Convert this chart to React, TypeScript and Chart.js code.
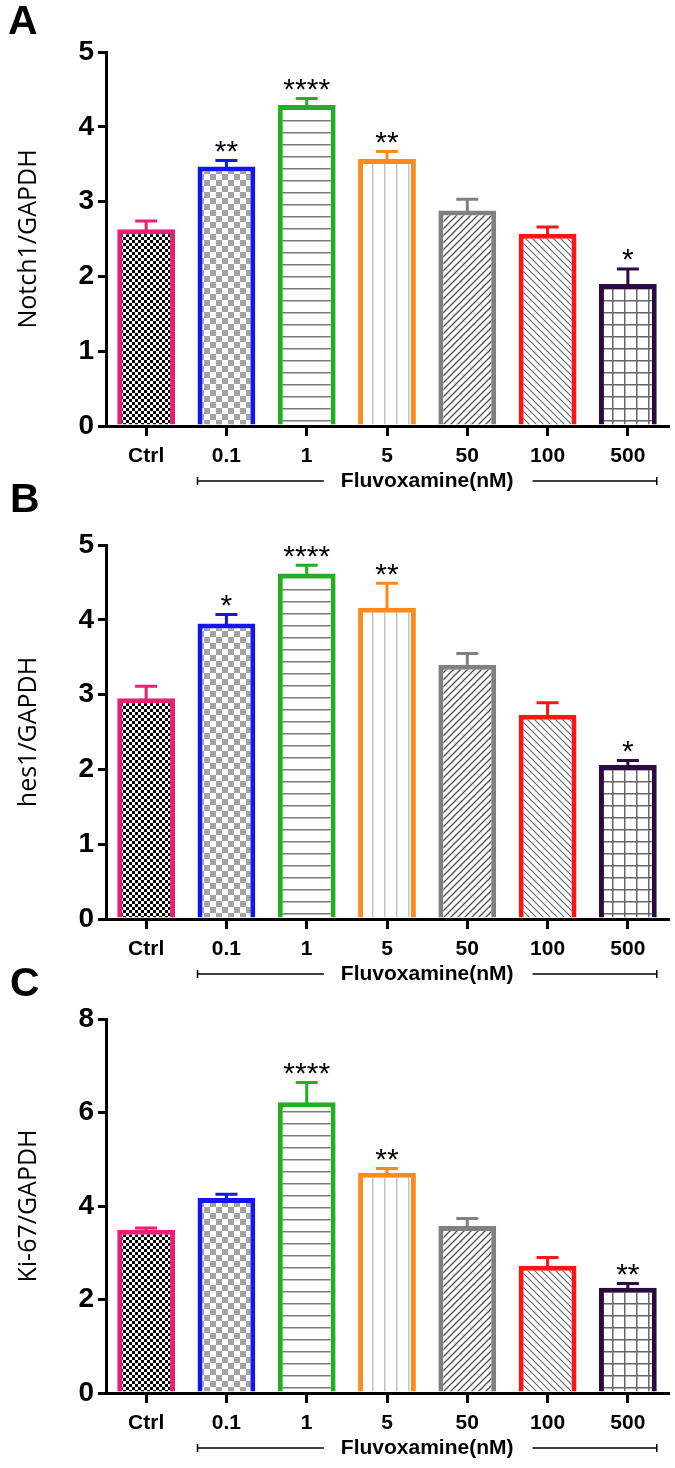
import React, { useEffect, useRef } from 'react';
import { Chart, registerables } from 'chart.js';

Chart.register(...registerables);

// ---------- data ----------
const categories = ['Ctrl', '0.1', '1', '5', '50', '100', '500'];

const notch1Values = [2.63, 3.47, 4.29, 3.57, 2.88, 2.57, 1.9];
const notch1Errors = [0.11, 0.08, 0.09, 0.1, 0.15, 0.09, 0.2];
const notch1Stars = ['', '**', '****', '**', '', '', '*'];

const hes1Values = [2.95, 3.95, 4.62, 4.16, 3.4, 2.73, 2.06];
const hes1Errors = [0.16, 0.12, 0.11, 0.33, 0.15, 0.16, 0.06];
const hes1Stars = ['', '*', '****', '**', '', '', '*'];

const ki67Values = [3.49, 4.17, 6.22, 4.71, 3.57, 2.72, 2.25];
const ki67Errors = [0.04, 0.08, 0.42, 0.09, 0.16, 0.18, 0.09];
const ki67Stars = ['', '', '****', '**', '', '', '**'];

const groupLabel = 'Fluvoxamine(nM)';

const barColors = ['#e81f72', '#1414f0', '#22b022', '#ff8a1c', '#808080', '#ff1414', '#2c0b42'];
const patternKinds = ['fineChecker', 'grayChecker', 'hLines', 'vLines', 'diagUp', 'diagDown', 'grid'];

// ---------- patterns ----------
function makePattern(kind: string): CanvasPattern | string {
  const c = document.createElement('canvas');
  let s = 12;
  if (kind === 'fineChecker') s = 6;
  if (kind === 'diagUp' || kind === 'diagDown') s = 7;
  c.width = s;
  c.height = s;
  const g = c.getContext('2d');
  if (!g) return '#fff';
  g.fillStyle = '#ffffff';
  g.fillRect(0, 0, s, s);
  if (kind === 'fineChecker') {
    g.fillStyle = '#000000';
    g.fillRect(0, 0, 3, 3);
    g.fillRect(3, 3, 3, 3);
  } else if (kind === 'grayChecker') {
    g.fillStyle = '#a3a3a3';
    g.fillRect(0, 0, 6, 6);
    g.fillRect(6, 6, 6, 6);
  } else if (kind === 'hLines') {
    g.fillStyle = '#7a7a7a';
    g.fillRect(0, 0, s, 1.5);
  } else if (kind === 'vLines') {
    g.fillStyle = '#c4c4c4';
    g.fillRect(0, 0, 1.5, s);
  } else if (kind === 'diagUp') {
    g.strokeStyle = '#505050';
    g.lineWidth = 1.3;
    g.beginPath();
    g.moveTo(-1, s + 1);
    g.lineTo(s + 1, -1);
    g.moveTo(-1, 1);
    g.lineTo(1, -1);
    g.moveTo(s - 1, s + 1);
    g.lineTo(s + 1, s - 1);
    g.stroke();
  } else if (kind === 'diagDown') {
    g.strokeStyle = '#6a6a6a';
    g.lineWidth = 1.2;
    g.beginPath();
    g.moveTo(-1, -1);
    g.lineTo(s + 1, s + 1);
    g.moveTo(s - 1, -1);
    g.lineTo(s + 1, 1);
    g.moveTo(-1, s - 1);
    g.lineTo(1, s + 1);
    g.stroke();
  } else if (kind === 'grid') {
    g.fillStyle = '#666666';
    g.fillRect(0, 0, s, 1.5);
    g.fillRect(0, 0, 1.5, s);
  }
  const p = g.createPattern(c, 'repeat');
  return p || '#fff';
}

// ---------- panel ----------
type PanelProps = {
  top: number;
  height: number;
  yTitle: string;
  values: number[];
  errors: number[];
  stars: string[];
  yMax: number;
  yStep: number;
};

const AXIS_BOTTOM = 426;

function Panel({ top, height, yTitle, values, errors, stars, yMax, yStep }: PanelProps) {
  const ref = useRef<HTMLCanvasElement | null>(null);

  useEffect(() => {
    if (!ref.current) return;
    const patterns = patternKinds.map((k) => makePattern(k));

    const annotate = {
      id: 'annotate',
      afterDatasetsDraw(chart: any) {
        const { ctx, scales } = chart;
        const y = scales.y;
        const meta = chart.getDatasetMeta(0);
        meta.data.forEach((bar: any, i: number) => {
          const cx = bar.x;
          const topPx = bar.y;
          const errPx = y.getPixelForValue(values[i] + errors[i]);
          ctx.save();
          ctx.strokeStyle = barColors[i];
          ctx.lineWidth = 3;
          ctx.beginPath();
          ctx.moveTo(cx, topPx + 3);
          ctx.lineTo(cx, errPx);
          ctx.moveTo(cx - 11, errPx);
          ctx.lineTo(cx + 11, errPx);
          ctx.stroke();
          if (stars[i]) {
            ctx.font = '30px "Liberation Sans", Arial, sans-serif';
            ctx.fillStyle = '#000';
            ctx.textAlign = 'center';
            ctx.textBaseline = 'alphabetic';
            const m = ctx.measureText(stars[i]);
            const baseline = errPx - 1.5 - 7 - m.actualBoundingBoxDescent;
            ctx.fillText(stars[i], cx, baseline);
          }
          ctx.restore();
        });
        // bracket with group label
        const b1 = meta.data[1];
        const b6 = meta.data[meta.data.length - 1];
        const x1 = b1.x - b1.width / 2;
        const x2 = b6.x + b6.width / 2;
        const by = chart.chartArea.bottom + 55;
        ctx.save();
        ctx.font = 'bold 21px "Liberation Sans", Arial, sans-serif';
        ctx.fillStyle = '#000';
        ctx.textAlign = 'center';
        ctx.textBaseline = 'middle';
        const mid = (x1 + x2) / 2;
        const tw = ctx.measureText(groupLabel).width;
        ctx.fillText(groupLabel, mid, by);
        ctx.strokeStyle = '#000';
        ctx.lineWidth = 1.5;
        ctx.beginPath();
        ctx.moveTo(x1, by);
        ctx.lineTo(mid - tw / 2 - 17, by);
        ctx.moveTo(mid + tw / 2 + 19, by);
        ctx.lineTo(x2, by);
        ctx.moveTo(x1, by - 4);
        ctx.lineTo(x1, by + 4);
        ctx.moveTo(x2, by - 4);
        ctx.lineTo(x2, by + 4);
        ctx.stroke();
        ctx.restore();
      },
    };

    const chart = new Chart(ref.current, {
      type: 'bar',
      data: {
        labels: categories,
        datasets: [
          {
            data: values,
            backgroundColor: patterns as any,
            borderColor: barColors,
            borderWidth: 5,
            borderSkipped: 'start',
            barPercentage: 0.72,
            categoryPercentage: 1,
          },
        ],
      },
      options: {
        responsive: false,
        animation: false,
        layout: { padding: { top: 52, right: 7, left: 0, bottom: 0 } },
        plugins: { legend: { display: false }, tooltip: { enabled: false } },
        scales: {
          x: {
            z: 1,
            offset: true,
            grid: {
              offset: false,
              drawOnChartArea: false,
              drawTicks: true,
              tickLength: 10,
              lineWidth: 3,
              color: '#000',
            },
            border: { display: true, width: 3, color: '#000' },
            ticks: {
              color: '#000',
              padding: 8,
              font: { family: '"Liberation Sans", Arial, sans-serif', size: 21, weight: 'bold' },
              maxRotation: 0,
            },
            afterFit: (scale: any) => {
              scale.height = height - AXIS_BOTTOM;
            },
          },
          y: {
            z: 1,
            min: 0,
            max: yMax,
            grid: {
              drawOnChartArea: false,
              drawTicks: true,
              tickLength: 8,
              lineWidth: 3,
              color: '#000',
            },
            border: { display: true, width: 3, color: '#000' },
            ticks: {
              stepSize: yStep,
              color: '#000',
              padding: 4,
              font: { family: '"Liberation Sans", Arial, sans-serif', size: 28, weight: 'bold' },
            },
            title: {
              display: true,
              text: yTitle,
              color: '#000',
              padding: { top: 14, bottom: 0 },
              font: { family: '"Open Sans", sans-serif', size: 25, weight: 'normal' },
            },
            afterFit: (scale: any) => {
              scale.width = 106;
            },
          },
        },
      },
      plugins: [annotate],
    });
    return () => chart.destroy();
  }, []);

  return (
    <canvas
      ref={ref}
      width={675}
      height={height}
      style={{ position: 'absolute', left: 0, top, width: 675, height }}
    />
  );
}

const letterStyle: React.CSSProperties = {
  position: 'absolute',
  fontFamily: '"Liberation Sans", Arial, sans-serif',
  fontWeight: 'bold',
  fontSize: 41,
  lineHeight: '41px',
  color: '#000',
};

export default function App() {
  return (
    <div style={{ position: 'absolute', left: 0, top: 0, width: 675, height: 1468, background: '#fff' }}>
      <Panel top={0} height={495} yTitle="Notch1/GAPDH" values={notch1Values} errors={notch1Errors} stars={notch1Stars} yMax={5} yStep={1} />
      <Panel top={493} height={495} yTitle="hes1/GAPDH" values={hes1Values} errors={hes1Errors} stars={hes1Stars} yMax={5} yStep={1} />
      <Panel top={967} height={501} yTitle="Ki-67/GAPDH" values={ki67Values} errors={ki67Errors} stars={ki67Stars} yMax={8} yStep={2} />
      <div style={{ ...letterStyle, left: 8, top: 0 }}>A</div>
      <div style={{ ...letterStyle, left: 10, top: 478 }}>B</div>
      <div style={{ ...letterStyle, left: 10, top: 962 }}>C</div>
    </div>
  );
}
